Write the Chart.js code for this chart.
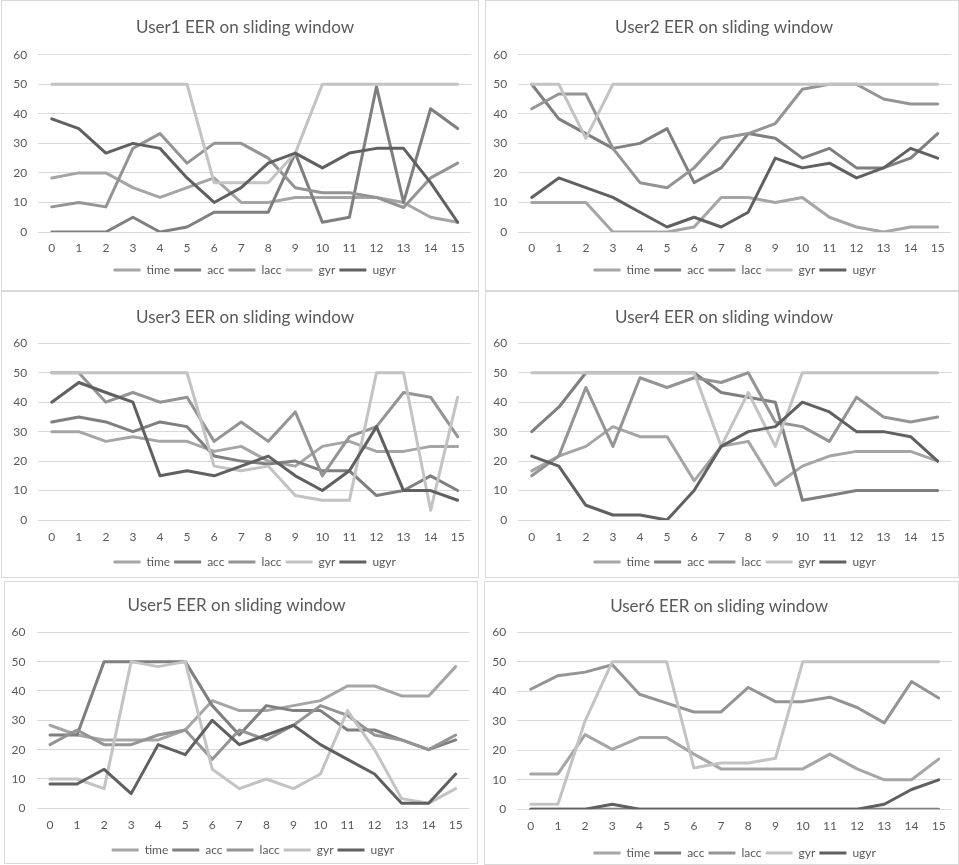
<!DOCTYPE html>
<html>
<head>
<meta charset="utf-8">
<script src="https://cdn.jsdelivr.net/npm/chart.js@4/dist/chart.umd.min.js"></script>
<style>
  html, body { margin: 0; padding: 0; background: #ffffff; }
  body { width: 959px; height: 865px; position: relative; overflow: hidden; }
  .frame { position: absolute; border: 1px solid #d9d9d9; box-sizing: border-box; }
  .holder { position: absolute; }
  .holder canvas { display: block; }
</style>
</head>
<body>
<script>
// Sliding-window index (x axis)
const windows = ['0','1','2','3','4','5','6','7','8','9','10','11','12','13','14','15'];
const seriesNames = ['time', 'acc', 'lacc', 'gyr', 'ugyr'];
const seriesColors = ['#a5a5a5', '#7f7f7f', '#949494', '#c3c3c3', '#606060'];
const yTicks = { min: 0, max: 60, step: 10 };

// EER (%) per window, one array per sensor, per user
const user1Time = [18.3, 20, 20, 15, 11.7, 15, 18.3, 10, 10, 11.7, 11.7, 11.7, 11.7, 10, 5, 3.3];
const user1Acc  = [0, 0, 0, 5, 0, 1.7, 6.7, 6.7, 6.7, 26.7, 3.3, 5, 49.2, 10, 41.7, 35];
const user1Lacc = [8.5, 10, 8.5, 28.3, 33.3, 23.3, 30, 30, 25, 15, 13.3, 13.3, 11.7, 8.3, 18.3, 23.3];
const user1Gyr  = [50, 50, 50, 50, 50, 50, 16.7, 16.7, 16.7, 26.7, 50, 50, 50, 50, 50, 50];
const user1Ugyr = [38.3, 35, 26.7, 30, 28.3, 18.3, 10, 15, 23.3, 26.7, 21.7, 26.7, 28.3, 28.3, 16.7, 3.3];

const user2Time = [10, 10, 10, 0, 0, 0, 1.7, 11.7, 11.7, 10, 11.7, 5, 1.7, 0, 1.7, 1.7];
const user2Acc  = [50, 38.3, 33.3, 28.3, 30, 35, 16.7, 21.7, 33.3, 31.7, 25, 28.3, 21.7, 21.7, 25, 33.3];
const user2Lacc = [41.7, 46.7, 46.7, 28.3, 16.7, 15, 21.7, 31.7, 33.3, 36.7, 48.3, 50, 50, 45, 43.3, 43.3];
const user2Gyr  = [50, 50, 31.7, 50, 50, 50, 50, 50, 50, 50, 50, 50, 50, 50, 50, 50];
const user2Ugyr = [11.7, 18.3, 15, 11.7, 6.7, 1.7, 5, 1.7, 6.7, 25, 21.7, 23.3, 18.3, 21.7, 28.3, 25];

const user3Time = [30, 30, 26.7, 28.3, 26.7, 26.7, 23.3, 25, 20, 18.3, 25, 26.7, 23.3, 23.3, 25, 25];
const user3Acc  = [33.3, 35, 33.3, 30, 33.3, 31.7, 21.7, 20, 19, 20, 16.7, 16.7, 8.3, 10, 15, 10];
const user3Lacc = [50, 50, 40, 43.3, 40, 41.7, 26.7, 33.3, 26.7, 36.7, 15, 28.3, 31.7, 43.3, 41.7, 28.3];
const user3Gyr  = [50, 50, 50, 50, 50, 50, 18.3, 16.7, 18.3, 8.3, 6.7, 6.7, 50, 50, 3.3, 41.7];
const user3Ugyr = [40, 46.7, 43.3, 40, 15, 16.7, 15, 18.3, 21.7, 15, 10, 16.7, 31.7, 10, 10, 6.7];

const user4Time = [16.7, 21.7, 25, 31.7, 28.3, 28.3, 13.3, 25, 26.7, 11.7, 18.3, 21.7, 23.3, 23.3, 23.3, 20];
const user4Acc  = [30, 38.3, 50, 50, 50, 50, 50, 43.3, 41.7, 40, 6.7, 8.3, 10, 10, 10, 10];
const user4Lacc = [15, 21.7, 45, 25, 48.3, 45, 48.3, 46.7, 50, 33.3, 31.7, 26.7, 41.7, 35, 33.3, 35];
const user4Gyr  = [50, 50, 50, 50, 50, 50, 50, 25, 43.3, 25, 50, 50, 50, 50, 50, 50];
const user4Ugyr = [21.7, 18.3, 5, 1.7, 1.7, 0, 10, 25, 30, 31.7, 40, 36.7, 30, 30, 28.3, 20];

const user5Time = [28.3, 25, 23.3, 23.3, 23.3, 26.7, 36.7, 33.3, 33.3, 35, 36.7, 41.7, 41.7, 38.3, 38.3, 48.3];
const user5Acc  = [25, 25, 50, 50, 50, 50, 35, 25, 35, 33.3, 33.3, 26.7, 26.7, 23.3, 20, 23.3];
const user5Lacc = [21.7, 26.7, 21.7, 21.7, 25, 26.7, 16.7, 26.7, 23.3, 28.3, 35, 31.7, 25, 23.3, 20, 25];
const user5Gyr  = [10, 10, 6.7, 50, 48.3, 50, 13.3, 6.7, 10, 6.7, 11.7, 33.3, 20, 3.3, 1.7, 6.7];
const user5Ugyr = [8.3, 8.3, 13.3, 5, 21.7, 18.3, 30, 21.7, 25, 28.3, 21.7, 16.7, 11.7, 1.7, 1.7, 11.7];

const user6Time = [12, 12, 25.3, 20.3, 24.3, 24.3, 18.7, 13.7, 13.7, 13.7, 13.7, 18.7, 13.7, 10, 10, 17];
const user6Acc  = [0, 0, 0, 0, 0, 0, 0, 0, 0, 0, 0, 0, 0, 0, 0, 0];
const user6Lacc = [40.7, 45.3, 46.5, 49, 39, 36, 33, 33, 41.3, 36.5, 36.5, 38, 34.5, 29.3, 43.3, 37.7];
const user6Gyr  = [1.7, 1.7, 30, 50, 50, 50, 14, 15.7, 15.7, 17.3, 50, 50, 50, 50, 50, 50];
const user6Ugyr = [0, 0, 0, 1.7, 0, 0, 0, 0, 0, 0, 0, 0, 0, 1.7, 6.7, 10];

const userTitles = [
  'User1 EER on sliding window', 'User2 EER on sliding window',
  'User3 EER on sliding window', 'User4 EER on sliding window',
  'User5 EER on sliding window', 'User6 EER on sliding window'
];
const userSeries = [
  [user1Time, user1Acc, user1Lacc, user1Gyr, user1Ugyr],
  [user2Time, user2Acc, user2Lacc, user2Gyr, user2Ugyr],
  [user3Time, user3Acc, user3Lacc, user3Gyr, user3Ugyr],
  [user4Time, user4Acc, user4Lacc, user4Gyr, user4Ugyr],
  [user5Time, user5Acc, user5Lacc, user5Gyr, user5Ugyr],
  [user6Time, user6Acc, user6Lacc, user6Gyr, user6Ugyr]
];

// Page geometry of each chart panel (frame box, plot box, text rows, left inset for centring)
const panels = [
  { left: 1,   top: 0,   w: 478, h: 291, inset: 18, plotLeft: 38.2,  plotRight: 471.2, plotTop: 54.7,  plotBottom: 232,   titleY: 28,  labelY: 248, legendY: 270 },
  { left: 485, top: 0,   w: 474, h: 291, inset: 12, plotLeft: 518.2, plotRight: 951.2, plotTop: 54.7,  plotBottom: 232,   titleY: 28,  labelY: 248, legendY: 270 },
  { left: 1,   top: 291, w: 478, h: 287, inset: 18, plotLeft: 38.2,  plotRight: 471.2, plotTop: 343.3, plotBottom: 520,   titleY: 318, labelY: 537, legendY: 562 },
  { left: 485, top: 291, w: 474, h: 287, inset: 12, plotLeft: 518.2, plotRight: 951.2, plotTop: 343.3, plotBottom: 520,   titleY: 318, labelY: 537, legendY: 562 },
  { left: 4,   top: 581, w: 474, h: 283, inset: 0,  plotLeft: 36.5,  plotRight: 469.2, plotTop: 632.3, plotBottom: 808.3, titleY: 606, labelY: 825, legendY: 850 },
  { left: 484, top: 581, w: 475, h: 284, inset: 2,  plotLeft: 517.1, plotRight: 952.3, plotTop: 632.3, plotBottom: 809.3, titleY: 607, labelY: 826, legendY: 853 }
];

const FONT = 'Lato, "Liberation Sans", sans-serif';
const TEXT = '#595959';
const GRID = '#d9d9d9';

function buildPanel(p, title, values) {
  const frame = document.createElement('div');
  frame.className = 'frame';
  frame.style.cssText = `left:${p.left}px;top:${p.top}px;width:${p.w}px;height:${p.h}px;`;
  document.body.appendChild(frame);

  const canvasH = Math.max(p.h, Math.ceil(p.legendY + 18 - p.top));
  const holder = document.createElement('div');
  holder.className = 'holder';
  holder.style.cssText = `left:${p.left}px;top:${p.top}px;width:${p.w}px;height:${canvasH}px;`;
  const canvas = document.createElement('canvas');
  canvas.width = p.w;
  canvas.height = canvasH;
  holder.appendChild(canvas);
  document.body.appendChild(holder);

  const titleSize = 17, titleLH = titleSize * 1.2;
  const titlePadTop = p.titleY - p.top - titleLH / 2;
  const titlePadBottom = p.plotTop - p.top - titlePadTop - titleLH;
  const legendPad = 4, legendFont = 12;
  const legendTop = p.legendY - legendFont / 2 - legendPad;
  const legendBottom = legendTop + legendFont + legendPad + 10;
  const bottomPad = Math.max(0, p.top + canvasH - legendBottom);
  const xAxisH = legendTop - p.plotBottom;
  const yAxisW = p.plotLeft - p.left - p.inset;
  const rightPad = p.left + p.w - p.plotRight;

  const datasets = seriesNames.map((name, i) => ({
    label: name,
    data: values[i],
    borderColor: seriesColors[i],
    backgroundColor: seriesColors[i],
    borderWidth: 3,
    pointRadius: 0,
    pointHoverRadius: 0,
    pointStyle: 'line',
    tension: 0,
    fill: false,
    borderJoinStyle: 'round',
    borderCapStyle: 'round',
    order: seriesNames.length - i
  }));

  new Chart(canvas, {
    type: 'line',
    data: { labels: windows, datasets },
    options: {
      responsive: false,
      animation: false,
      devicePixelRatio: 1,
      layout: { padding: { left: p.inset, right: rightPad, top: 0, bottom: bottomPad } },
      plugins: {
        title: {
          display: true,
          text: title,
          color: TEXT,
          font: { family: FONT, size: titleSize, weight: 'normal', lineHeight: 1.2 },
          padding: { top: titlePadTop, bottom: titlePadBottom }
        },
        legend: {
          display: true,
          position: 'bottom',
          fullSize: false,
          labels: {
            usePointStyle: true,
            pointStyle: 'line',
            pointStyleWidth: 27,
            padding: legendPad,
            color: TEXT,
            font: { family: FONT, size: legendFont },
            sort: (a, b) => a.datasetIndex - b.datasetIndex
          }
        },
        tooltip: { enabled: false }
      },
      scales: {
        x: {
          type: 'category',
          offset: true,
          grid: { display: false, drawTicks: false },
          border: { display: false },
          ticks: {
            color: TEXT,
            font: { family: FONT, size: 12 },
            padding: p.labelY - p.plotBottom - 7.2,
            maxRotation: 0,
            autoSkip: false
          },
          afterFit: s => { s.height = xAxisH; }
        },
        y: {
          min: yTicks.min,
          max: yTicks.max,
          grid: { color: GRID, lineWidth: 1, drawTicks: false },
          border: { display: false },
          ticks: {
            stepSize: yTicks.step,
            color: TEXT,
            font: { family: FONT, size: 12 },
            padding: 11
          },
          afterFit: s => {
            s.width = yAxisW;
            // tick labels sit slightly left of the narrowed axis box; let them draw unclipped
            s._computeLabelArea = () => undefined;
          }
        }
      }
    }
  });
}

panels.forEach((p, i) => buildPanel(p, userTitles[i], userSeries[i]));
</script>
</body>
</html>
